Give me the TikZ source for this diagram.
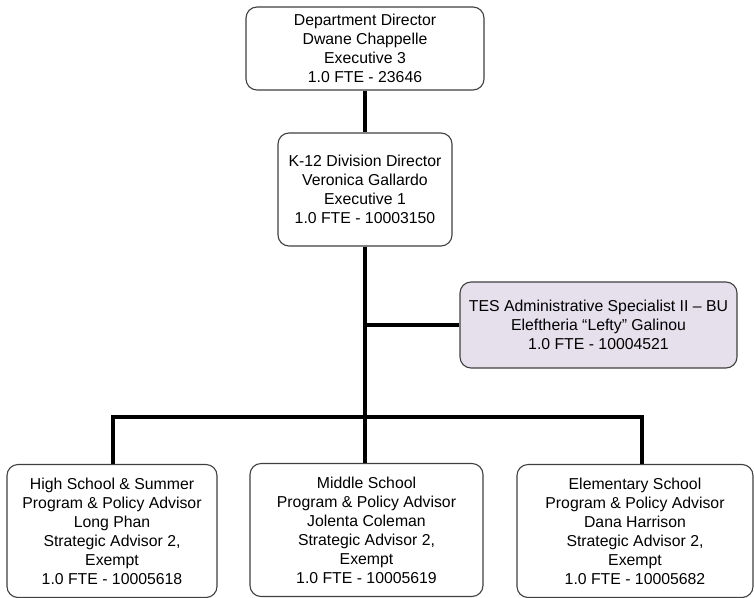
\documentclass[tikz,border=0pt]{standalone}
\usepackage{fontspec}
\setmainfont{Liberation Sans}
\definecolor{lavender}{RGB}{229,224,236}

\begin{document}
\begin{tikzpicture}[x=1pt,y=-1pt,
  post/.style={draw=black!75, line width=1.1pt, fill=white, rounded corners=11pt,
    align=center, inner sep=0pt, font=\fontsize{15.8}{19}\selectfont},
  link/.style={line width=4pt}]
\useasboundingbox (0,0) rectangle (754,597);

\node[post, minimum width=238pt, minimum height=83pt] (dir) at (365,48.5)
  {Department Director\\Dwane Chappelle\\Executive 3\\1.0 FTE - 23646};
\node[post, minimum width=174pt, minimum height=113pt] (k12) at (365,189.5)
  {K-12 Division Director\\Veronica Gallardo\\Executive 1\\1.0 FTE - 10003150};
\node[post, fill=lavender, minimum width=277pt, minimum height=86pt] (tes) at (598.5,325)
  {TES Administrative Specialist II – BU\\Eleftheria “Lefty” Galinou\\1.0 FTE - 10004521};

\node[post, minimum width=210pt, minimum height=133pt] (high) at (112,531)
  {High School \& Summer\\Program \& Policy Advisor\\Long Phan\\Strategic Advisor 2,\\Exempt\\1.0 FTE - 10005618};
\node[post, minimum width=233pt, minimum height=133pt] (middle) at (366.5,530)
  {Middle School\\Program \& Policy Advisor\\Jolenta Coleman\\Strategic Advisor 2,\\Exempt\\1.0 FTE - 10005619};
\node[post, minimum width=236pt, minimum height=133pt] (elem) at (635,531)
  {Elementary School\\Program \& Policy Advisor\\Dana Harrison\\Strategic Advisor 2,\\Exempt\\1.0 FTE - 10005682};

% connectors
\coordinate (side) at (365,325);
\coordinate (bar) at (365,417);
\coordinate (barl) at (113,417);
\coordinate (barr) at (642,417);
\draw[link] (dir) -- (k12);
\draw[link] (k12) -- (bar);
\draw[link] (side) -- (side -| tes.west);
\draw[link] (barl |- high.north) -- (barl) -- (barr) -- (barr |- elem.north);
\draw[link] (bar) -- (bar |- middle.north);
\end{tikzpicture}
\end{document}
